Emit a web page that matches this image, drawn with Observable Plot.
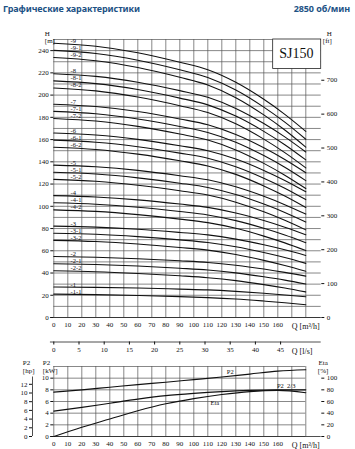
<!DOCTYPE html>
<html><head><meta charset="utf-8">
<script src="https://cdn.jsdelivr.net/npm/d3@7"></script>
<script src="https://cdn.jsdelivr.net/npm/@observablehq/plot@0.6"></script>
<style>
body{margin:0;background:#fff;width:355px;height:449px;position:relative;overflow:hidden}
.ttl{position:absolute;top:2px;font:bold 9px "Noto Sans";letter-spacing:-0.1px;color:#1d5285;white-space:nowrap;z-index:2}
#up,#lo{position:absolute;left:0}
#up{top:0}#lo{top:355px}
</style></head><body>
<div class="ttl" style="left:3px">Графические характеристики</div>
<div class="ttl" style="right:5px">2850 об/мин</div>
<div id="up"></div><div id="lo"></div>
<script>
// ---- upper chart data (H in m vs Q in m3/h)
const Q = [0, 30, 60, 90, 110, 130, 150, 165, 180];
const names = ["-9","-9-1","-9-2","-8","-8-1","-8-2","-7","-7-1","-7-2","-6","-6-1","-6-2","-5","-5-1","-5-2","-4","-4-1","-4-2","-3","-3-1","-3-2","-2","-2-1","-2-2","-1","-1-1"];
const h9   = [246.6,243.9,238.1,229.5,222.8,211.5,196.2,182.7,167.4];
const h9_1 = [240.2,237.4,231.4,222.8,215.9,204.6,189.2,175.7,160.3];
const h9_2 = [233.8,230.9,224.8,216.0,209.1,197.7,182.2,168.6,153.2];
const h8   = [219.2,216.8,211.6,204.0,198.0,188.0,174.4,162.4,148.8];
const h8_1 = [212.8,210.3,205.0,197.3,191.2,181.1,167.4,155.4,141.7];
const h8_2 = [206.4,203.8,198.3,190.5,184.3,174.2,160.4,148.3,134.6];
const h7   = [191.8,189.7,185.2,178.5,173.3,164.5,152.6,142.1,130.2];
const h7_1 = [185.4,183.2,178.5,171.8,166.4,157.6,145.6,135.1,123.1];
const h7_2 = [179.0,176.7,171.9,165.0,159.6,150.7,138.6,128.0,116.0];
const h6   = [165.9,164.1,160.2,154.5,150.0,142.5,132.3,123.3,113.1];
const h6_1 = [159.5,157.6,153.6,147.8,143.2,135.6,125.3,116.3,106.0];
const h6_2 = [153.1,151.1,146.9,141.0,136.3,128.7,118.3,109.2,98.9];
const h5   = [137.0,135.5,132.3,127.5,123.8,117.5,109.0,101.5,93.0];
const h5_1 = [130.6,129.0,125.6,120.8,116.9,110.6,102.0,94.5,85.9];
const h5_2 = [124.2,122.5,119.0,114.0,110.1,103.7,95.0,87.4,78.8];
const h4   = [109.6,108.4,105.8,102.0,99.0,94.0,87.2,81.2,74.4];
const h4_1 = [103.2,101.9,99.2,95.3,92.2,87.1,80.2,74.2,67.3];
const h4_2 = [96.8,95.4,92.5,88.5,85.3,80.2,73.2,67.1,60.2];
const h3   = [82.2,81.3,79.4,76.5,74.3,70.5,65.4,60.9,55.8];
const h3_1 = [75.8,74.8,72.7,69.8,67.4,63.6,58.4,53.9,48.7];
const h3_2 = [69.4,68.3,66.1,63.0,60.6,56.7,51.4,46.8,41.6];
const h2   = [54.8,54.2,52.9,51.0,49.5,47.0,43.6,40.6,37.2];
const h2_1 = [48.4,47.7,46.3,44.3,42.7,40.1,36.6,33.6,30.1];
const h2_2 = [42.0,41.2,39.6,37.5,35.8,33.2,29.6,26.5,23.0];
const h1   = [27.4,27.1,26.5,25.5,24.8,23.5,21.8,20.3,18.6];
const h1_1 = [21.0,20.6,19.8,18.8,17.9,16.6,14.8,13.3,11.5];
const series = [h9,h9_1,h9_2,h8,h8_1,h8_2,h7,h7_1,h7_2,h6,h6_1,h6_2,h5,h5_1,h5_2,h4,h4_1,h4_2,h3,h3_1,h3_2,h2,h2_1,h2_2,h1,h1_1];

// ticks
const qTicks = [0,10,20,30,40,50,60,70,80,90,100,110,120,130,140,150,160];
const gridQ = [0,10,20,30,40,50,60,70,80,90,100,110,120,130,140,150,160,170,180];
const hTicks = [0,20,40,60,80,100,120,140,160,180,200,220,240];
const gridH = [0,10,20,30,40,50,60,70,80,90,100,110,120,130,140,150,160,170,180,190,200,210,220,230,240,250];
const ftTicks = [0,100,200,300,400,500,600,700];
const lpsTicks = [0,5,10,15,20,25,30,35,40,45];

// ---- lower chart data
const Qp = [0,20,40,60,80,100,120,140,160,180];
const p2 = [7.6,8.0,8.45,8.9,9.3,9.75,10.2,10.7,11.2,11.45];
const p2_23 = [4.35,5.0,5.7,6.4,7.0,7.4,7.7,7.9,8.0,8.0];
const eta = [0,16,30,44,56,65,72,77,79,75];
const kwTicks = [0,2,4,6,8,10];
const gridKW = [0,2,4,6,8,10,12];
const hpTicks = [0,2,4,6,8,10,12];
const etaTicks = [0,20,40,60,80,100];

const grid = "#555", gw = 0.7;
const font = {background: "transparent", fontFamily: "'Liberation Serif', 'DejaVu Serif', serif", fontSize: "7px", color: "#111"};

const rows = [];
series.forEach((s, i) => s.forEach((h, j) => rows.push({name: names[i], Q: Q[j], H: h})));
const labelRows = series.map((s, i) => ({name: names[i], H: s[0]}));

const up = Plot.plot({
  width: 355, height: 355,
  marginLeft: 53.3, marginRight: 49.7, marginTop: 39, marginBottom: 38,
  x: {domain: [0, 180], axis: null}, y: {domain: [0, 250], axis: null},
  style: font,
  marks: [
    Plot.ruleX(gridQ, {stroke: grid, strokeWidth: gw}),
    Plot.ruleY(gridH, {x1: 0, x2: 191, stroke: grid, strokeWidth: gw}),
    Plot.ruleY([0], {x1: -2.4, x2: 191, stroke: "#222", strokeWidth: 0.8}),
    Plot.axisY(hTicks, {anchor: "left", tickSize: 3, tickPadding: 2, label: null}),
    Plot.axisY(ftTicks.map(v => v * 0.3048), {anchor: "right", tickFormat: v => Math.round(v / 0.3048), dx: 15, tickSize: 3, tickPadding: 3, label: null}),
    Plot.axisX(qTicks, {anchor: "bottom", tickSize: 0, tickPadding: 5, label: null}),
    Plot.ruleY([0], {x1: -2.4, x2: 191, dy: 24.5, stroke: "#222", strokeWidth: 0.8}),
    Plot.axisX(lpsTicks.map(v => v * 3.6), {anchor: "bottom", tickFormat: v => Math.round(v / 3.6), dy: 24.5, tickSize: 3, tickPadding: 2, label: null}),
    Plot.text(["Q [m³/h]"], {x: 170, y: 0, dy: 9, textAnchor: "start", fontSize: 8}),
    Plot.text(["Q [l/s]"], {x: 170, y: 0, dy: 33.5, textAnchor: "start", fontSize: 8}),
    Plot.text(["H"], {frameAnchor: "top-left", dx: -9, dy: -8}),
    Plot.text(["[m]"], {frameAnchor: "top-left", dx: -9, dy: -1}),
    Plot.text(["H"], {frameAnchor: "top-right", dx: 26, dy: -8}),
    Plot.text(["[ft]"], {frameAnchor: "top-right", dx: 26, dy: -1}),
    Plot.rect([0], {x1: 156.7, x2: 191, y1: 223.4, y2: 250, fill: "white", stroke: "#222", strokeWidth: 0.8}),
    Plot.text(["SJ150"], {x: 173.2, y: 237, fontSize: 14}),
    Plot.line(rows, {x: "Q", y: "H", z: "name", stroke: "#111", strokeWidth: 1.1, curve: "monotone-x"}),
    Plot.text(labelRows, {x: 12, y: "H", text: "name", textAnchor: "start", lineAnchor: "bottom", dy: -0.5, fontSize: 6.5})
  ]
});
document.getElementById("up").append(up);

const lowRows = [];
Qp.forEach((q, j) => {
  lowRows.push({s: "P2", Q: q, v: p2[j]});
  lowRows.push({s: "P2 2/3", Q: q, v: p2_23[j]});
  lowRows.push({s: "Eta", Q: q, v: eta[j] / 10});
});

const lo = Plot.plot({
  width: 355, height: 94,
  marginLeft: 53.3, marginRight: 49.7, marginTop: 11, marginBottom: 13,
  x: {domain: [0, 180], axis: null}, y: {domain: [0, 12], axis: null},
  style: font,
  marks: [
    Plot.ruleX(gridQ, {stroke: grid, strokeWidth: gw}),
    Plot.ruleY(gridKW, {x1: 0, x2: 180, stroke: grid, strokeWidth: gw}),
    Plot.ruleY([0], {x1: -2.4, x2: 191, stroke: "#222", strokeWidth: 0.8}),
    Plot.axisY(kwTicks, {anchor: "left", tickSize: 3, tickPadding: 2, label: null}),
    Plot.axisY(hpTicks.map(v => v * 0.7457), {anchor: "left", tickFormat: v => Math.round(v / 0.7457), dx: -21.3, tickSize: 3, tickPadding: 2, label: null}),
    Plot.ruleX([0], {y1: 0, y2: 10.2, dx: -21.3, stroke: "#222", strokeWidth: 0.8}),
    Plot.axisY(etaTicks.map(v => v / 10), {anchor: "right", tickFormat: v => Math.round(v * 10), dx: 15, tickSize: 3, tickPadding: 3, label: null}),
    Plot.axisX(qTicks, {anchor: "bottom", tickSize: 0, tickPadding: 5, label: null}),
    Plot.text(["Q [m³/h]"], {x: 170, y: 0, dy: 9, textAnchor: "start", fontSize: 8}),
    Plot.text(["P2"], {frameAnchor: "top-left", dx: -31, dy: -6}),
    Plot.text(["[hp]"], {frameAnchor: "top-left", dx: -31, dy: 1.5}),
    Plot.text(["P2"], {frameAnchor: "top-left", dx: -11, dy: -6}),
    Plot.text(["[kW]"], {frameAnchor: "top-left", dx: -11, dy: 1.5}),
    Plot.text(["Eta"], {frameAnchor: "top-right", dx: 22, dy: -6}),
    Plot.text(["[%]"], {frameAnchor: "top-right", dx: 22.5, dy: 1.5}),
    Plot.line(lowRows, {x: "Q", y: "v", z: "s", stroke: "#111", strokeWidth: 1.1, curve: "monotone-x"}),
    Plot.text(["P2"], {x: 126, y: 11.0, fontSize: 6.5}),
    Plot.text(["P2  2/3"], {x: 166, y: 8.6, fontSize: 6.5}),
    Plot.text(["Eta"], {x: 115, y: 5.8, fontSize: 6.5})
  ]
});
document.getElementById("lo").append(lo);
</script>
</body></html>
